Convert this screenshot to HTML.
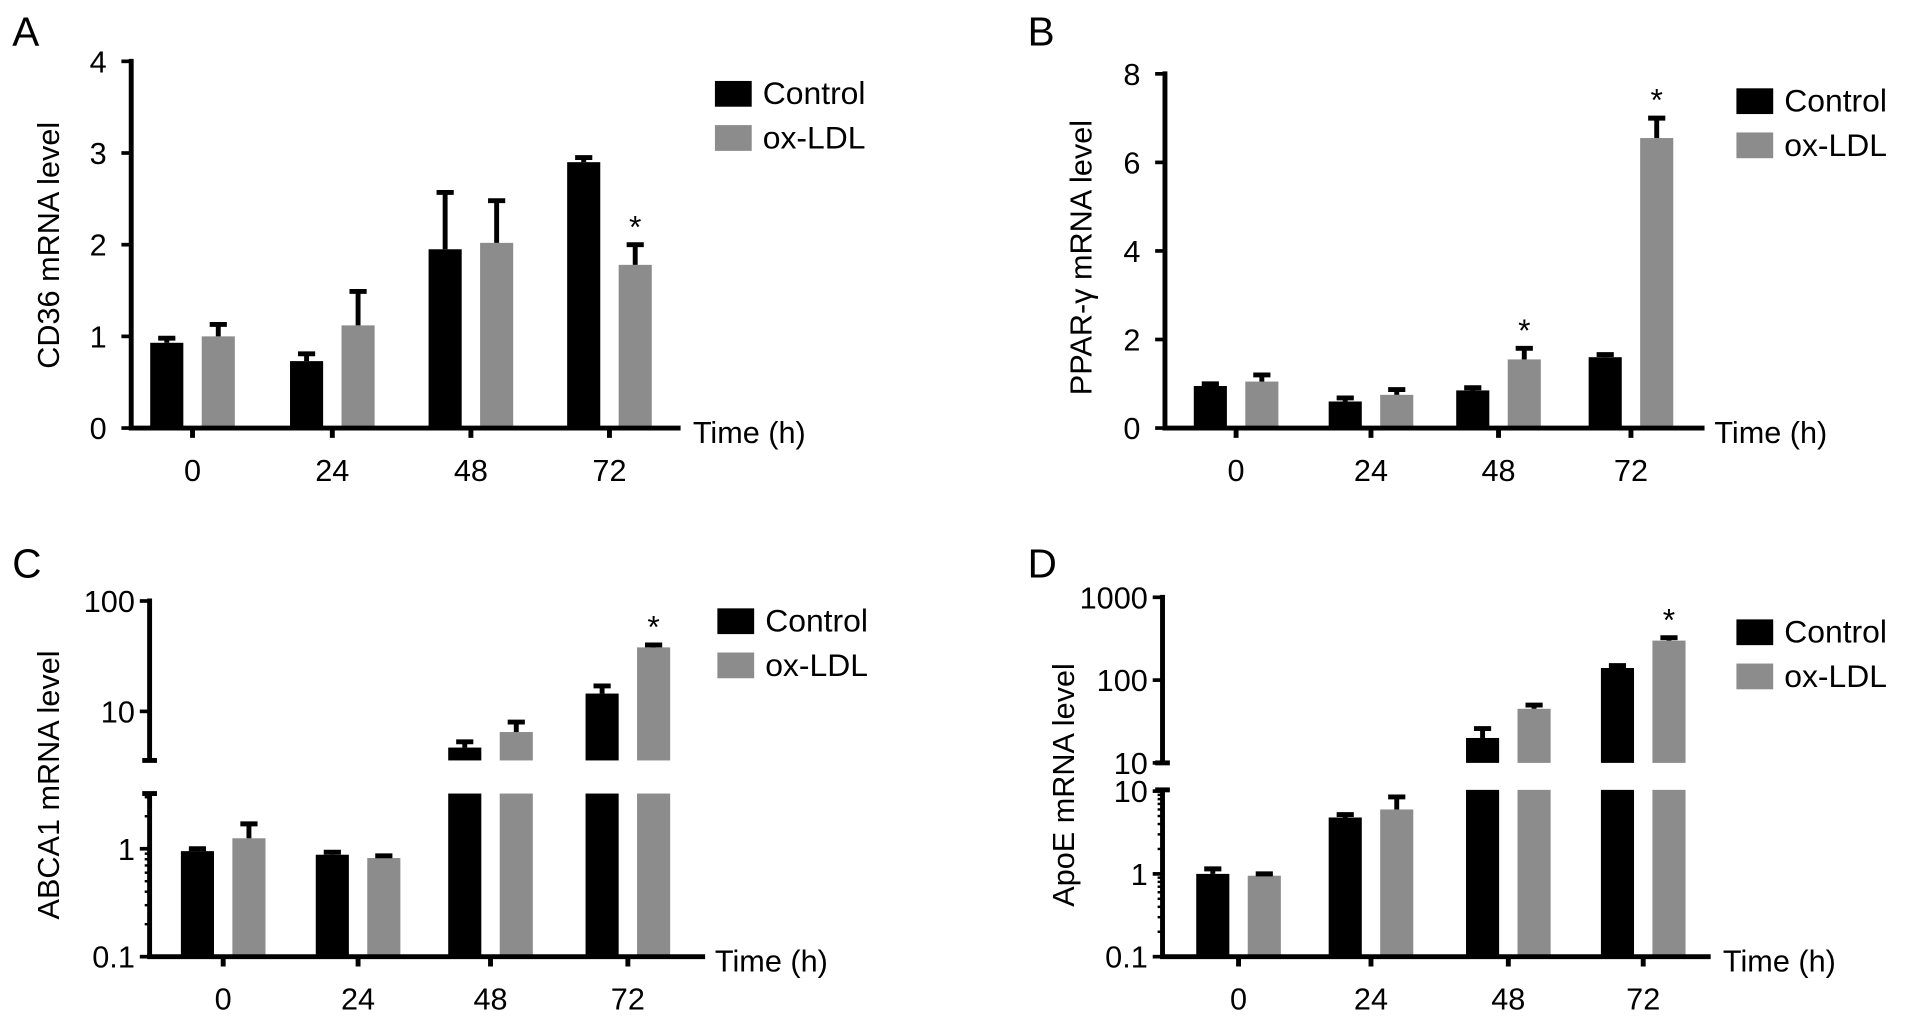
<!DOCTYPE html>
<html><head><meta charset="utf-8"><style>
html,body{margin:0;padding:0;background:#fff;}
svg{display:block;font-family:"Liberation Sans",Arial,sans-serif;}
</style></head><body>
<svg id="fig" width="1913" height="1018" viewBox="0 0 1560 830" preserveAspectRatio="none" xmlns="http://www.w3.org/2000/svg"></svg>
<script>
const categories = ["0","24","48","72"];
const aCtrl = [0.93,0.73,1.95,2.9];
const aCtrlErr = [0.05,0.08,0.62,0.05];
const aOx = [1.0,1.12,2.02,1.78];
const aOxErr = [0.13,0.37,0.46,0.22];
const aStar = [false,false,false,true];
const aTicks = [0,1,2,3,4];
const bCtrl = [0.95,0.6,0.85,1.6];
const bCtrlErr = [0.05,0.08,0.06,0.06];
const bOx = [1.05,0.75,1.55,6.55];
const bOxErr = [0.15,0.12,0.25,0.45];
const bStar = [false,false,true,true];
const bTicks = [0,2,4,6,8];
const cCtrl = [0.95,0.88,4.7,14.5];
const cCtrlErr = [0.05,0.05,0.6,2.5];
const cOx = [1.25,0.82,6.5,38];
const cOxErr = [0.45,0.04,1.5,2];
const cStar = [false,false,false,true];
const cTicksBottom = ["0.1","1"];
const cTicksTop = ["10","100"];
const dCtrl = [1.0,4.8,20,140];
const dCtrlErr = [0.15,0.4,6,10];
const dOx = [0.95,6,45,300];
const dOxErr = [0.05,2.5,5,25];
const dStar = [false,false,false,true];
const dTicksBottom = ["0.1","1","10"];
const dTicksTop = ["10","100","1000"];

const svg = document.getElementById('fig');
const NS = "http://www.w3.org/2000/svg";
function mk(tag, attrs, name, parent){
  const e = document.createElementNS(NS, tag);
  for (const k in attrs) e.setAttribute(k, attrs[k]);
  
  
  (parent||svg).appendChild(e);
  return e;
}
function txt(x,y,s,size,anchor,name,extra){
  const t = mk('text', Object.assign({x:x,y:y,'font-size':size,'text-anchor':anchor||'middle',fill:'#000'}, extra||{}), name);
  t.textContent = s; return t;
}
const CTRL='#000', OX='#8c8c8c';

function drawPanel(p){
  txt(p.lx,p.ly,p.letter,33,'start','panel-label-'+p.letter.toLowerCase());
  txt(p.ylabelX,p.ylabelY,p.ylabel,25,'middle','y-axis-title-'+p.letter.toLowerCase(),{transform:`rotate(-90 ${p.ylabelX} ${p.ylabelY})`});
  categories.forEach((c,i)=>{
    const cx = p.catX[i];
    [[p.ctrl,p.ctrlErr,CTRL,-21,'control'],[p.ox,p.oxErr,OX,21,'ox-ldl']].forEach(([vals,errs,col,off,nm])=>{
      const v = vals[i], e = errs[i];
      const x = cx+off-13.5, w = 27;
      p.barSegs(v).forEach(([y0,y1])=>{
        mk('rect',{x:x,y:Math.min(y0,y1),width:w,height:Math.abs(y1-y0),fill:col},'bar-'+nm+'-'+c);
      });
      const yt = p.y(v), ye = p.y(v+e);
      mk('line',{x1:cx+off,x2:cx+off,y1:yt,y2:ye,stroke:'#000','stroke-width':4},'error-bar-'+nm+'-'+c);
      mk('line',{x1:cx+off-7,x2:cx+off+7,y1:ye,y2:ye,stroke:'#000','stroke-width':4},'error-cap-'+nm+'-'+c);
      if (nm==='ox-ldl' && p.star[i]) txt(cx+off,ye-6,'*',26,'middle','significance-star-'+c);
    });
    mk('line',{x1:cx,x2:cx,y1:p.baseY,y2:p.baseY+8,stroke:'#000','stroke-width':4},'x-tick-'+c);
    txt(cx,p.baseY+43,c,25,'middle','x-tick-label-'+c);
  });
  mk('line',{x1:p.axisX-2,x2:p.axisEnd,y1:p.baseY,y2:p.baseY,stroke:'#000','stroke-width':4},'x-axis-'+p.letter.toLowerCase());
  txt(p.timeX,p.baseY+12,'Time (h)',25,'start','x-axis-title-'+p.letter.toLowerCase());
  mk('rect',{x:p.legX,y:p.legY,width:30,height:21,fill:CTRL},'legend-swatch-control');
  txt(p.legX+39,p.legY+19,'Control',26,'start','legend-entry-control');
  mk('rect',{x:p.legX,y:p.legY+36,width:30,height:21,fill:OX},'legend-swatch-ox-ldl');
  txt(p.legX+39,p.legY+55,'ox-LDL',26,'start','legend-entry-ox-ldl');
}

(function(){
  const ax=107, y0=349, unit=74.75;
  const y = v=>y0-v*unit;
  mk('line',{x1:ax,x2:ax,y1:y(4)-2,y2:y0,stroke:'#000','stroke-width':4},'y-axis-a');
  aTicks.forEach(t=>{
    mk('line',{x1:ax-8,x2:ax,y1:y(t),y2:y(t),stroke:'#000','stroke-width':3},'y-tick-a-'+t);
    txt(ax-20,y(t)+9,String(t),25,'end','y-tick-label-a-'+t);
  });
  drawPanel({letter:'A',lx:10,ly:37,axisX:ax,axisEnd:555,baseY:y0,catX:[157,271,384,497],y:y,
    barSegs:v=>[[y0,y(v)]],ctrl:aCtrl,ctrlErr:aCtrlErr,ox:aOx,oxErr:aOxErr,star:aStar,
    ylabel:'CD36 mRNA level',ylabelX:48,ylabelY:200,legX:583,legY:66,timeX:565});
})();
(function(){
  const ax=950, y0=349, unit=36.1;
  const y = v=>y0-v*unit;
  mk('line',{x1:ax,x2:ax,y1:y(8)-2,y2:y0,stroke:'#000','stroke-width':4},'y-axis-b');
  bTicks.forEach(t=>{
    mk('line',{x1:ax-8,x2:ax,y1:y(t),y2:y(t),stroke:'#000','stroke-width':3},'y-tick-b-'+t);
    txt(ax-20,y(t)+9,String(t),25,'end','y-tick-label-b-'+t);
  });
  drawPanel({letter:'B',lx:838,ly:37,axisX:ax,axisEnd:1390,baseY:y0,catX:[1008,1118,1222,1330],y:y,
    barSegs:v=>[[y0,y(v)]],ctrl:bCtrl,ctrlErr:bCtrlErr,ox:bOx,oxErr:bOxErr,star:bStar,
    ylabel:'PPAR-\u03b3 mRNA level',ylabelX:890,ylabelY:210,legX:1416,legY:72,timeX:1398});
})();
function brokenLog(p){
  const ax=p.ax, base=p.base;
  const yb = v=>base-(Math.log10(v)-Math.log10(p.bMin))*p.bDec;
  const yt = v=>p.tRefY-(Math.log10(v)-Math.log10(p.tRef))*p.tDec;
  const breakV = p.breakV;
  const y = v=> v<=breakV ? yb(v) : yt(v);
  mk('line',{x1:ax,x2:ax,y1:p.bTop,y2:base,stroke:'#000','stroke-width':4},'y-axis-bottom-'+p.id);
  mk('line',{x1:ax,x2:ax,y1:p.tTopY,y2:p.tBot,stroke:'#000','stroke-width':4},'y-axis-top-'+p.id);
  mk('line',{x1:ax-6,x2:ax+6,y1:p.bTop,y2:p.bTop,stroke:'#000','stroke-width':4},'axis-break-bottom-'+p.id);
  mk('line',{x1:ax-6,x2:ax+6,y1:p.tBot,y2:p.tBot,stroke:'#000','stroke-width':4},'axis-break-top-'+p.id);
  p.ticksB.forEach(s=>{const v=parseFloat(s);
    mk('line',{x1:ax-8,x2:ax,y1:yb(v),y2:yb(v),stroke:'#000','stroke-width':3},'y-tick-'+p.id+'-'+s);
    txt(ax-12,yb(v)+9,s,25,'end','y-tick-label-'+p.id+'-'+s);});
  p.ticksT.forEach(s=>{const v=parseFloat(s);
    mk('line',{x1:ax-8,x2:ax,y1:yt(v),y2:yt(v),stroke:'#000','stroke-width':3},'y-tick-'+p.id+'-top-'+s);
    txt(ax-12,yt(v)+9,s,25,'end','y-tick-label-'+p.id+'-top-'+s);});
  for (let d=Math.log10(p.bMin); d<Math.log10(breakV); d++) for(let m=2;m<10;m++){const v=Math.pow(10,d)*m; if(v<breakV){
    mk('line',{x1:ax-4,x2:ax,y1:yb(v),y2:yb(v),stroke:'#000','stroke-width':2},'y-minor-tick-'+p.id);}}
  return {y:y, barSegs:v=>{
    if (v<=breakV) return [[base,yb(v)]];
    return [[base,p.bTop],[p.tBot,yt(v)]];
  }};
}
(function(){
  const s = brokenLog({id:'c',ax:122,base:780,bMin:0.1,bDec:88,bTop:647,tRef:10,tRefY:580,tDec:90,tTopY:488,tBot:620,breakV:3.3,ticksB:cTicksBottom,ticksT:cTicksTop});
  drawPanel({letter:'C',lx:10,ly:471,axisX:122,axisEnd:575,baseY:780,catX:[182,292,400,512],y:s.y,
    barSegs:s.barSegs,ctrl:cCtrl,ctrlErr:cCtrlErr,ox:cOx,oxErr:cOxErr,star:cStar,
    ylabel:'ABCA1 mRNA level',ylabelX:48,ylabelY:640,legX:585,legY:496,timeX:583});
})();
(function(){
  const s = brokenLog({id:'d',ax:948,base:780,bMin:0.1,bDec:67.5,bTop:644,tRef:10,tRefY:622,tDec:67.5,tTopY:485,tBot:622,breakV:10,ticksB:dTicksBottom,ticksT:dTicksTop});
  drawPanel({letter:'D',lx:838,ly:471,axisX:948,axisEnd:1395,baseY:780,catX:[1010,1118,1230,1340],y:s.y,
    barSegs:s.barSegs,ctrl:dCtrl,ctrlErr:dCtrlErr,ox:dOx,oxErr:dOxErr,star:dStar,
    ylabel:'ApoE mRNA level',ylabelX:876,ylabelY:640,legX:1416,legY:505,timeX:1405});
})();
</script>
</body></html>
